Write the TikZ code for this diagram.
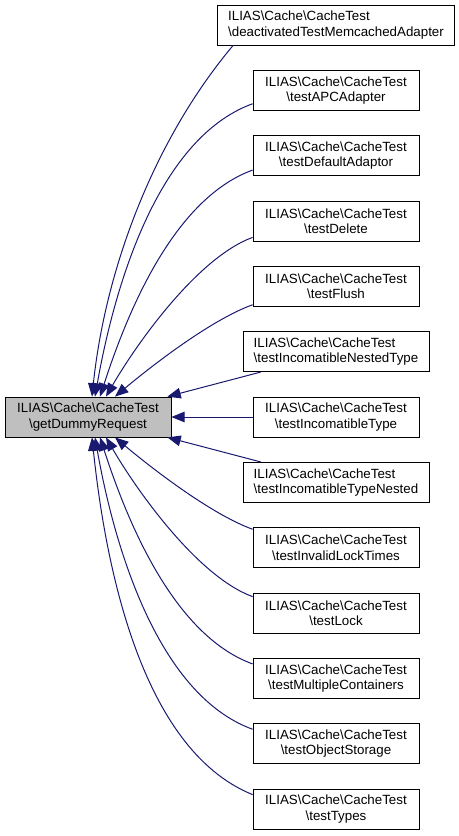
\documentclass[tikz,border=0pt]{standalone}
\usepackage{fontspec}
\setmainfont{Liberation Sans}
\usepackage{xcolor}
\usepackage{tikz}
\usetikzlibrary{arrows.meta, positioning}

\definecolor{edgeblue}{HTML}{191970}
\definecolor{activegray}{HTML}{BFBFBF}
\newcommand{\bsl}{\textbackslash}

\begin{document}
\begin{tikzpicture}[
    x=0.75pt, y=0.75pt,
    node distance=18.4pt,
    func/.style={rectangle, draw=black, line width=0.6pt, fill=white, minimum width=124.5pt, minimum height=30pt, inner xsep=8pt, align=center, font=\fontsize{10}{11.5}\selectfont},
    funcleft/.style={func, align=left},
    arrow/.style={-{Triangle[length=10pt, width=8pt]}, draw=edgeblue, line width=0.75pt}
]
\useasboundingbox (0,0) rectangle (459,-836);

\node[func, fill=activegray] (req) at (88,-417) {ILIAS\bsl Cache\bsl CacheTest\\\bsl getDummyRequest};

\node[funcleft] (r1) at (336,-25) {ILIAS\bsl Cache\bsl CacheTest\\\bsl deactivatedTestMemcachedAdapter};
\node[func, below=of r1] (r2) {ILIAS\bsl Cache\bsl CacheTest\\\bsl testAPCAdapter};
\node[func, below=of r2] (r3) {ILIAS\bsl Cache\bsl CacheTest\\\bsl testDefaultAdaptor};
\node[func, below=of r3] (r4) {ILIAS\bsl Cache\bsl CacheTest\\\bsl testDelete};
\node[func, below=of r4] (r5) {ILIAS\bsl Cache\bsl CacheTest\\\bsl testFlush};
\node[funcleft, below=of r5] (r6) {ILIAS\bsl Cache\bsl CacheTest\\\bsl testIncomatibleNestedType};
\node[func, below=of r6] (r7) {ILIAS\bsl Cache\bsl CacheTest\\\bsl testIncomatibleType};
\node[funcleft, below=of r7] (r8) {ILIAS\bsl Cache\bsl CacheTest\\\bsl testIncomatibleTypeNested};
\node[func, below=of r8] (r9) {ILIAS\bsl Cache\bsl CacheTest\\\bsl testInvalidLockTimes};
\node[func, below=of r9] (r10) {ILIAS\bsl Cache\bsl CacheTest\\\bsl testLock};
\node[func, below=of r10] (r11) {ILIAS\bsl Cache\bsl CacheTest\\\bsl testMultipleContainers};
\node[func, below=of r11] (r12) {ILIAS\bsl Cache\bsl CacheTest\\\bsl testObjectStorage};
\node[func, below=of r12] (r13) {ILIAS\bsl Cache\bsl CacheTest\\\bsl testTypes};

\draw[arrow] ([shift={(16,0)}]r1.south west) to[out=230, in=84, looseness=0.85] ([shift={(4,0)}]req.north);
\draw[arrow] ([shift={(0,7)}]r2.south west) to[out=200, in=80, looseness=0.8] ([shift={(7,0)}]req.north);
\draw[arrow] ([shift={(0,6)}]r3.south west) to[out=200, in=72, looseness=0.8] ([shift={(12,0)}]req.north);
\draw[arrow] ([shift={(0,4)}]r4.south west) to[out=200, in=60, looseness=0.7] ([shift={(18,0)}]req.north);
\draw[arrow] ([shift={(0,2)}]r5.south west) to[out=200, in=40, looseness=0.7] ([shift={(27,0)}]req.north);
\draw[arrow] ([shift={(18,0)}]r6.south west) -- ([shift={(-4,0)}]req.north east);
\draw[arrow] (r7) -- (req);
\draw[arrow] ([shift={(18,0)}]r8.north west) -- ([shift={(-4,0)}]req.south east);
\draw[arrow] ([shift={(0,-2)}]r9.north west) to[out=160, in=-40, looseness=0.7] ([shift={(27,0)}]req.south);
\draw[arrow] ([shift={(0,-4)}]r10.north west) to[out=160, in=-60, looseness=0.7] ([shift={(18,0)}]req.south);
\draw[arrow] ([shift={(0,-6)}]r11.north west) to[out=160, in=-72, looseness=0.8] ([shift={(12,0)}]req.south);
\draw[arrow] ([shift={(0,-6)}]r12.north west) to[out=160, in=-80, looseness=0.8] ([shift={(7,0)}]req.south);
\draw[arrow] ([shift={(0,-6)}]r13.north west) to[out=158, in=-84, looseness=0.8] ([shift={(4,0)}]req.south);
\end{tikzpicture}
\end{document}
